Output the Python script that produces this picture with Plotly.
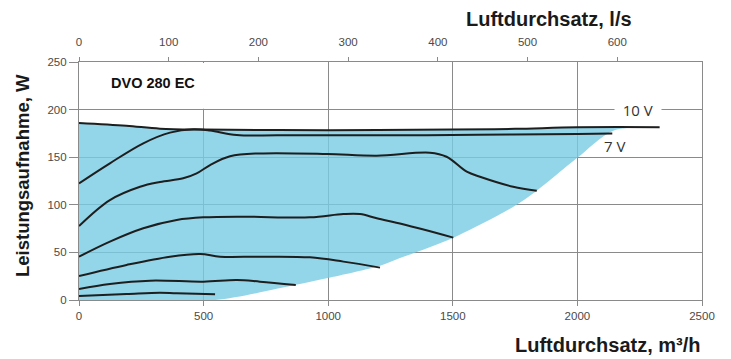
import plotly.graph_objects as go

# ---- data (m3/h vs W) ----
q_10v = [0, 190, 325, 500, 800, 1200, 1500, 1750, 2000, 2330]
p_10v = [186, 183, 180, 179, 178.5, 178.5, 179, 179.8, 181.4, 181.5]

q_7v = [0, 124, 258, 365, 459, 526, 633, 800, 1200, 1600, 2000, 2140]
p_7v = [122.5, 143.6, 164.6, 175.8, 179.3, 178, 173.3, 173, 173, 173.5, 174.5, 175]

q_c3 = [0, 124, 245, 325, 418, 472, 526, 606, 726, 994, 1195, 1408, 1475, 1556, 1609, 1742, 1837]
p_c3 = [77.7, 105, 119, 124, 127.8, 133, 141.8, 151, 154, 153.4, 151.5, 154.7, 150.5, 134.8, 129.5, 119, 114.8]

q_c4 = [0, 124, 258, 392, 499, 659, 927, 1061, 1128, 1195, 1300, 1502]
p_c4 = [45.5, 61.3, 75.3, 84, 86.8, 87.5, 86.8, 90.3, 90.3, 85.8, 79.5, 65.5]

q_c5 = [0, 191, 365, 486, 566, 726, 927, 1061, 1208]
p_c5 = [25.2, 36.8, 45.5, 48.3, 45.5, 45.5, 44.8, 40.3, 34]

q_c6 = [0, 124, 285, 499, 633, 726, 870]
p_c6 = [11.6, 16.8, 20.3, 19.3, 21, 19.3, 15.8]

q_c7 = [0, 191, 325, 392, 546]
p_c7 = [4.2, 6.3, 7.7, 7, 6]

# lower boundary of the working area (left to right)
q_low = [0, 546, 870, 994, 1208, 1288, 1502, 1743, 1837, 1997, 2144, 2330]
p_low = [0, 0, 16, 22.8, 36, 44, 65.5, 98, 114.8, 148.8, 177.9, 181.5]

x_ticks = [0, 500, 1000, 1500, 2000, 2500]
y_ticks = [0, 50, 100, 150, 200, 250]
ls_ticks = [0, 100, 200, 300, 400, 500, 600]

FACTOR = 3.6  # m3/h per l/s

fig = go.Figure()

# working-area fill: lower boundary, then upper curve filled to it
fig.add_trace(go.Scatter(
    x=q_low, y=p_low, mode="lines",
    line=dict(width=0, shape="spline", smoothing=0.8),
    hoverinfo="skip", showlegend=False,
))
fig.add_trace(go.Scatter(
    x=q_10v, y=p_10v, mode="lines", fill="tonexty",
    line=dict(width=0, shape="spline", smoothing=1),
    fillcolor="rgba(120,203,227,0.8)",
    hoverinfo="skip", showlegend=False,
))

for qx, py in [(q_10v, p_10v), (q_7v, p_7v), (q_c3, p_c3), (q_c4, p_c4),
               (q_c5, p_c5), (q_c6, p_c6), (q_c7, p_c7)]:
    fig.add_trace(go.Scatter(
        x=qx, y=py, mode="lines",
        line=dict(color="#1e1e1e", width=2, shape="spline", smoothing=1),
        showlegend=False,
    ))

# invisible trace for the top axis (l/s)
fig.add_trace(go.Scatter(x=[0, 2500 / FACTOR], y=[0, 0], xaxis="x2",
                         mode="markers", marker=dict(opacity=0),
                         showlegend=False, hoverinfo="skip"))

tickfont = dict(family="Liberation Sans Narrow, Liberation Sans, Arial", size=11.5, color="#4a4a4a")
titlefont = dict(family="Liberation Sans Narrow, Liberation Sans, Arial", size=20, color="#1a1a1a")

# the page body has an 8px margin: figure is 8px smaller and margins shifted
fig.update_layout(
    width=723, height=351,
    margin=dict(l=71, r=29, t=54, b=59),
    paper_bgcolor="white", plot_bgcolor="white",
    xaxis=dict(range=[0, 2500], tickvals=x_ticks, showgrid=True,
               gridcolor="#8a8a8a", gridwidth=1.2, zeroline=False,
               showline=True, linecolor="#8a8a8a", linewidth=1.2,
               ticks="outside", ticklen=5, tickcolor="#8a8a8a",
               tickfont=tickfont),
    xaxis2=dict(range=[0, 2500 / FACTOR], tickvals=ls_ticks, overlaying="x",
                side="top", showgrid=False, zeroline=False,
                showline=True, linecolor="#8a8a8a", linewidth=1.2,
                ticks="outside", ticklen=4, tickcolor="#8a8a8a",
                ticklabelstandoff=6, tickfont=tickfont),
    yaxis=dict(range=[0, 250], tickvals=y_ticks, showgrid=True,
               gridcolor="#8a8a8a", gridwidth=1.2, zeroline=False,
               showline=True, linecolor="#8a8a8a", linewidth=1.2, mirror=True,
               ticks="outside", ticklen=9, tickcolor="#8a8a8a",
               tickfont=tickfont),
    shapes=[dict(type="rect", xref="x", yref="y", x0=0, x1=560, y0=201, y1=249,
                 fillcolor="white", line=dict(width=0), layer="between")],
    annotations=[
        dict(text="<b>DVO 280 EC</b>", x=120, y=228, xref="x", yref="y",
             xanchor="left", yanchor="middle", showarrow=False,
             font=dict(family="Liberation Sans, Arial", size=14.5, color="#111")),
        dict(text="&nbsp;&nbsp;10 V&nbsp;&nbsp;", x=2243, y=200, xref="x", yref="y",
             showarrow=False, bgcolor="white", borderpad=0,
             font=dict(family="Open Sans, Liberation Sans", size=15, color="#333")),
        dict(text="7 V", x=2147, y=162, xref="x", yref="y", showarrow=False,
             font=dict(family="Open Sans, Liberation Sans", size=15, color="#333")),
        dict(text="<b>Luftdurchsatz, l/s</b>", x=0.755, y=1.18, xref="paper", yref="paper",
             showarrow=False, xanchor="center", yanchor="middle", font=titlefont),
        dict(text="<b>Luftdurchsatz, m³/h</b>", x=1.002, y=-0.19, xref="paper", yref="paper",
             showarrow=False, xanchor="right", yanchor="middle", font=titlefont),
        dict(text="<b>Leistungsaufnahme, W</b>", x=-0.0915, y=0.525, xref="paper", yref="paper",
             showarrow=False, textangle=-90, xanchor="center", yanchor="middle",
             font=dict(family="Liberation Sans Narrow, Liberation Sans, Arial", size=18.5, color="#1a1a1a")),
    ],
)

fig.write_html("out.html")
